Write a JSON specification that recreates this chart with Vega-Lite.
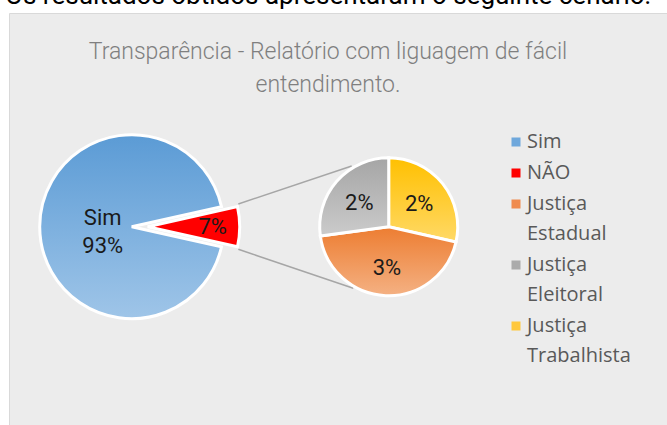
{
  "$schema": "https://vega.github.io/schema/vega-lite/v6.json",
  "width": 658,
  "height": 412,
  "autosize": {"type": "none"},
  "padding": {"left": 9, "top": 13, "right": 0, "bottom": 0},
  "background": "white",
  "title": {
    "text": "Os resultados obtidos apresentaram o seguinte cenário:",
    "subtitle": ["Transparência - Relatório com liguagem de fácil", "entendimento."],
    "anchor": "middle",
    "frame": "group",
    "orient": "top",
    "offset": -84,
    "dx": -10,
    "font": "Roboto",
    "fontSize": 26,
    "fontWeight": "normal",
    "color": "#000000",
    "subtitleFont": "Roboto",
    "subtitleFontSize": 23,
    "subtitleFontWeight": 300,
    "subtitleColor": "#7f7f7f",
    "subtitleLineHeight": 33,
    "subtitlePadding": 32
  },
  "data": {
    "values": [
      {"grafico": "Principal", "categoria": "Sim", "valor": 93},
      {"grafico": "Principal", "categoria": "NÃO", "valor": 7},
      {"grafico": "Detalhe", "categoria": "Justiça Estadual", "valor": 3.1},
      {"grafico": "Detalhe", "categoria": "Justiça Eleitoral", "valor": 1.9},
      {"grafico": "Detalhe", "categoria": "Justiça Trabalhista", "valor": 2.0}
    ]
  },
  "transform": [
    {"stack": "valor", "groupby": ["grafico"], "sort": [{"field": "categoria", "order": "descending"}], "as": ["inicio", "fim"]},
    {"calculate": "datum.categoria == 'Sim' ? [datum.categoria, format(datum.valor, '.0f') + '%'] : format(datum.valor, '.0f') + '%'", "as": "rotulo"}
  ],
  "encoding": {
    "x": {"field": "grafico", "type": "nominal", "scale": {"type": "point", "domain": ["Principal", "Detalhe"], "padding": 0.78016, "align": 0.306}, "axis": null},
    "y": {"datum": "centro", "type": "nominal", "scale": {"type": "point", "align": 0.5187}, "axis": null}
  },
  "layer": [
    {
      "transform": [{"filter": "datum.categoria == 'NÃO'"}],
      "mark": {"type": "rule", "color": "#a6a6a6", "strokeWidth": 1.5, "xOffset": 106.6, "x2Offset": -37, "yOffset": -22.7, "y2Offset": -60.7},
      "encoding": {"x2": {"datum": "Detalhe"}, "y2": {"datum": "centro"}}
    },
    {
      "transform": [{"filter": "datum.categoria == 'NÃO'"}],
      "mark": {"type": "rule", "color": "#a6a6a6", "strokeWidth": 1.5, "xOffset": 106.6, "x2Offset": -35.4, "yOffset": 22.6, "y2Offset": 61.6},
      "encoding": {"x2": {"datum": "Detalhe"}, "y2": {"datum": "centro"}}
    },
    {
      "transform": [{"filter": "datum.categoria == 'Sim'"}],
      "mark": {"type": "arc", "outerRadius": 92, "stroke": "white", "strokeWidth": 3,
        "fill": {"gradient": "linear", "x1": 0, "y1": 0, "x2": 0, "y2": 1, "stops": [{"offset": 0, "color": "#5b9bd5"}, {"offset": 1, "color": "#9fc5e8"}]}},
      "encoding": {
        "theta": {"field": "inicio", "type": "quantitative", "scale": {"domain": [0, 100], "range": [1.7907, 8.0739]}},
        "theta2": {"field": "fim"}
      }
    },
    {
      "transform": [{"filter": "datum.categoria == 'NÃO'"}],
      "mark": {"type": "arc", "outerRadius": 92, "stroke": "white", "strokeWidth": 3, "xOffset": 16, "fill": "#ff0000"},
      "encoding": {
        "theta": {"field": "inicio", "type": "quantitative", "scale": {"domain": [0, 100], "range": [1.7907, 8.0739]}},
        "theta2": {"field": "fim"}
      }
    },
    {
      "transform": [{"filter": "datum.categoria == 'Justiça Trabalhista'"}],
      "mark": {"type": "arc", "outerRadius": 69, "stroke": "white", "strokeWidth": 3,
        "fill": {"gradient": "linear", "x1": 0, "y1": 0, "x2": 0, "y2": 1, "stops": [{"offset": 0, "color": "#ffc000"}, {"offset": 1, "color": "#ffd966"}]}},
      "encoding": {
        "theta": {"field": "inicio", "type": "quantitative", "scale": {"domain": [0, 7], "range": [0, 6.2832]}},
        "theta2": {"field": "fim"}
      }
    },
    {
      "transform": [{"filter": "datum.categoria == 'Justiça Estadual'"}],
      "mark": {"type": "arc", "outerRadius": 69, "stroke": "white", "strokeWidth": 3,
        "fill": {"gradient": "linear", "x1": 0, "y1": 0, "x2": 0, "y2": 1, "stops": [{"offset": 0, "color": "#ed7d31"}, {"offset": 1, "color": "#f4b183"}]}},
      "encoding": {
        "theta": {"field": "inicio", "type": "quantitative", "scale": {"domain": [0, 7], "range": [0, 6.2832]}},
        "theta2": {"field": "fim"}
      }
    },
    {
      "transform": [{"filter": "datum.categoria == 'Justiça Eleitoral'"}],
      "mark": {"type": "arc", "outerRadius": 69, "stroke": "white", "strokeWidth": 3,
        "fill": {"gradient": "linear", "x1": 0, "y1": 0, "x2": 0, "y2": 1, "stops": [{"offset": 0, "color": "#a5a5a5"}, {"offset": 1, "color": "#cbcbcb"}]}},
      "encoding": {
        "theta": {"field": "inicio", "type": "quantitative", "scale": {"domain": [0, 7], "range": [0, 6.2832]}},
        "theta2": {"field": "fim"}
      }
    },
    {
      "transform": [{"filter": "datum.grafico == 'Principal'"}],
      "mark": {"type": "text", "radius": 29, "font": "Roboto", "fontSize": 22, "color": "#1a1a1a", "lineHeight": 28, "dy": -9},
      "encoding": {
        "theta": {"field": "valor", "type": "quantitative", "stack": true, "scale": {"domain": [0, 100], "range": [1.7907, 8.0739]}},
        "order": {"field": "categoria", "sort": "descending"},
        "text": {"condition": {"test": "datum.categoria == 'Sim'", "field": "rotulo"}, "value": ""}
      }
    },
    {
      "transform": [{"filter": "datum.grafico == 'Principal'"}],
      "mark": {"type": "text", "radius": 65, "xOffset": 16, "font": "Roboto", "fontSize": 22, "color": "#1a1a1a"},
      "encoding": {
        "theta": {"field": "valor", "type": "quantitative", "stack": true, "scale": {"domain": [0, 100], "range": [1.7907, 8.0739]}},
        "order": {"field": "categoria", "sort": "descending"},
        "text": {"condition": {"test": "datum.categoria == 'NÃO'", "field": "rotulo"}, "value": ""}
      }
    },
    {
      "transform": [{"filter": "datum.grafico == 'Detalhe'"}],
      "mark": {"type": "text", "radius": 39, "dy": 2, "font": "Roboto", "fontSize": 22, "color": "#1a1a1a"},
      "encoding": {
        "theta": {"field": "valor", "type": "quantitative", "stack": true, "scale": {"domain": [0, 7], "range": [0, 6.2832]}},
        "order": {"field": "categoria", "sort": "descending"},
        "text": {"field": "rotulo"}
      }
    },
    {
      "mark": {"type": "square", "opacity": 0, "size": 1},
      "encoding": {
        "color": {
          "field": "categoria",
          "type": "nominal",
          "scale": {
            "domain": ["Sim", "NÃO", "Justiça Estadual", "Justiça Eleitoral", "Justiça Trabalhista"],
            "range": ["#6fa8dc", "#ff0000", "#ef8b4f", "#ababab", "#ffc83d"]
          },
          "legend": {
            "title": null,
            "orient": "none",
            "legendX": 497,
            "legendY": 119,
            "padding": 0,
            "symbolType": "square",
            "symbolSize": 81,
            "symbolOpacity": 1,
            "symbolStrokeWidth": 0,
            "labelFont": "Open Sans",
            "labelFontSize": 20,
            "labelColor": "#595959",
            "labelOffset": 1,
            "labelLimit": 200,
            "rowPadding": 11,
            "labelExpr": "datum.label == 'Sim' || datum.label == 'NÃO' ? datum.label : split(datum.label, ' ')"
          }
        }
      }
    }
  ],
  "resolve": {"scale": {"theta": "independent"}},
  "config": {
    "view": {"fill": "#ececec", "stroke": "#d9d9d9"},
    "style": {"guide-label": {"lineHeight": 30}}
  }
}
